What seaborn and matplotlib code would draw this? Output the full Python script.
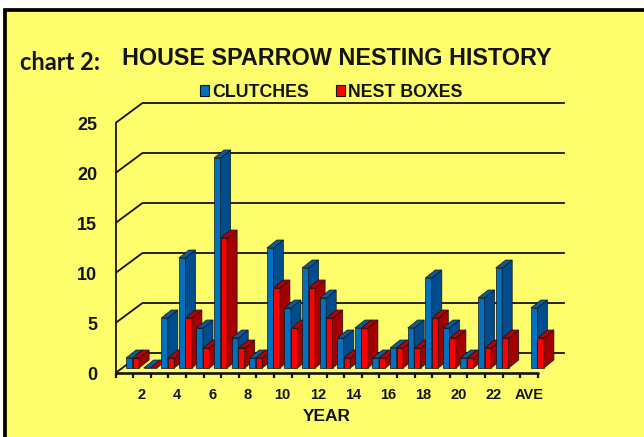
import numpy as np
import pandas as pd
import matplotlib
matplotlib.use('Agg')
import matplotlib.pyplot as plt
import seaborn as sns
from matplotlib.patches import Polygon, Rectangle, Patch

# Chart data
years = [str(i) for i in range(1, 23)] + [' ', 'AVE']
clutches = [1, 0, 5, 11, 4, 21, 3, 1, 12, 6, 10, 7, 3, 4, 1, 2, 4, 9, 4, 1, 7, 10, np.nan, 6]
nest_boxes = [1, 0, 1, 5, 2, 13, 2, 1, 8, 4, 8, 5, 1, 4, 1, 2, 2, 5, 3, 1, 2, 3, np.nan, 3]
series = ['CLUTCHES', 'NEST BOXES']
y_ticks = [0, 5, 10, 15, 20, 25]
x_labels = [y if i % 2 == 1 else '' for i, y in enumerate(years)]

# Colours
YELLOW = '#FEFE6C'
FRONT = {'CLUTCHES': '#0070C0', 'NEST BOXES': '#FF0000'}
SIDE = ['#004C8C', '#A30000']
TOP = ['#0A5C9E', '#B80000']
INK = '#141414'

W, H = 644, 437
sns.set_theme(style='white')
plt.rcParams['font.family'] = ['Liberation Sans', 'DejaVu Sans']
plt.rcParams['font.weight'] = 'bold'

fig = plt.figure(figsize=(W / 100, H / 100), dpi=100)
fig.patch.set_facecolor('white')
# yellow panel with black frame
fig.patches.append(Rectangle((4.7 / W, -0.2), 1.5, 1.2 - 10 / H, transform=fig.transFigure,
                             facecolor=YELLOW, edgecolor='black', linewidth=2.7, zorder=-10))

ax = fig.add_axes([115.5 / W, (H - 373) / H, 422.4 / W, 250 / H])
ax.set_facecolor('none')

df = pd.DataFrame({
    'Year': years * 2,
    'Count': clutches + nest_boxes,
    'Series': [series[0]] * len(years) + [series[1]] * len(years),
})
sns.barplot(data=df, x='Year', y='Count', hue='Series', order=years, hue_order=series,
            palette=FRONT, width=0.74, saturation=1, errorbar=None, legend=False,
            edgecolor=INK, linewidth=0.5, ax=ax)

# fake 3D: depth vector of the whole floor (category units, value units)
DXF, DYF = 1.534, 2.0
SX, SY = 0.47, 0.5          # where the bars' front faces sit
BDX, BDY = 0.57, 0.8        # bar depth

n = len(years)
lo, hi = -0.5, n - 0.5
line_kw = dict(color=INK, lw=1.3, solid_capstyle='butt', clip_on=False, zorder=1)
for v in y_ticks:
    ax.plot([lo, lo + DXF, hi + DXF], [v, v + DYF, v + DYF], **line_kw)
ax.plot([lo, lo], [0, y_ticks[-1]], **line_kw)
ax.plot([lo, hi], [0, 0], color=INK, lw=1.9, clip_on=False, zorder=2)

bars = [p for p in ax.patches if not np.isnan(p.get_height())]
bars.sort(key=lambda p: p.get_x())
for k, p in enumerate(bars):
    x, w, h = p.get_x() + SX, p.get_width(), p.get_height()
    si = 0 if p.get_facecolor()[2] > 0.5 else 1
    z = 3 + k * 0.01
    p.set_x(x)
    p.set_y(SY)
    p.set_zorder(z)
    p.set_clip_on(False)
    x1 = x + w
    side = Polygon([(x1, SY), (x1 + BDX, SY + BDY), (x1 + BDX, SY + h + BDY), (x1, SY + h)],
                   closed=True, facecolor=SIDE[si], edgecolor=INK, lw=0.5, zorder=z, clip_on=False)
    top = Polygon([(x, SY + h), (x1, SY + h), (x1 + BDX, SY + h + BDY), (x + BDX, SY + h + BDY)],
                  closed=True, facecolor=TOP[si], edgecolor=INK, lw=0.5, zorder=z, clip_on=False)
    ax.add_patch(side)
    ax.add_patch(top)

ax.set_xlim(lo, hi)
ax.set_ylim(0, y_ticks[-1])
for s in ax.spines.values():
    s.set_visible(False)

ax.set_yticks(y_ticks)
ax.set_yticklabels([str(v) for v in y_ticks], fontsize=13, fontweight='bold', color=INK)
ax.set_xticks(range(n))
ax.set_xticklabels(x_labels, fontsize=10.5, fontweight='bold', color=INK)
ax.set_xticks(np.arange(lo, hi + 0.01, 1), minor=True)
ax.tick_params(axis='y', length=0, pad=13.3)
ax.tick_params(axis='x', which='major', length=0, pad=10.6)
ax.tick_params(axis='x', which='minor', length=3.5, width=1.6, color=INK, bottom=True)
ax.set_xlabel('YEAR', fontsize=12.5, fontweight='bold', color=INK, labelpad=5)
ax.set_ylabel('')

fig.text(121.7 / W, 1 - 64.7 / H, 'HOUSE SPARROW NESTING HISTORY', fontsize=16.8,
         fontweight='bold', color=INK, ha='left', va='baseline')
fig.text(20 / W, 1 - 69.7 / H, 'chart 2:', fontsize=17, fontweight='bold', color=INK,
         family=['Lato', 'DejaVu Sans'], ha='left', va='baseline')

handles = [Patch(facecolor=FRONT[s], edgecolor=INK, linewidth=0.8) for s in series]
leg = fig.legend(handles, series, loc='center', bbox_to_anchor=(331 / W, 1 - 92.5 / H), ncol=2,
                 frameon=False, fontsize=12.8, handlelength=0.55,
                 handleheight=0.55, handletextpad=0.15, columnspacing=1.5, borderpad=0)
for t in leg.get_texts():
    t.set_fontweight('bold')
    t.set_color(INK)

fig.savefig('out.png', dpi=100)
